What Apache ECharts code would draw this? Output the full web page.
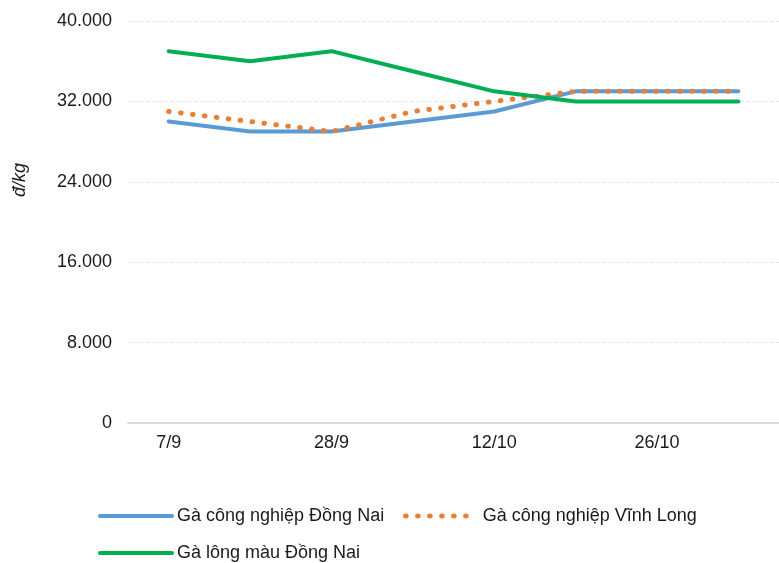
<!DOCTYPE html>
<html>
<head>
<meta charset="utf-8">
<script src="https://cdn.jsdelivr.net/npm/echarts@6/dist/echarts.min.js"></script>
<style>
  html, body { margin: 0; padding: 0; background: #fff; }
  #chart { width: 779px; height: 563px; }
</style>
</head>
<body>
<div id="chart"></div>
<script>
// dữ liệu biểu đồ
const categories = ['7/9', '14/9', '28/9', '5/10', '12/10', '19/10', '26/10', '2/11']
const dongNaiCN = [30000, 29000, 29000, 30000, 31000, 33000, 33000, 33000]
const vinhLongCN = [31000, 30000, 29000, 31000, 32000, 33000, 33000, 33000]
const dongNaiLM = [37000, 36000, 37000, 35000, 33000, 32000, 32000, 32000]
const seriesNames = ['Gà công nghiệp Đồng Nai', 'Gà công nghiệp Vĩnh Long', 'Gà lông màu Đồng Nai']
const yMin = 0
const yMax = 40000
const yStep = 8000

const font = 'Liberation Sans, Arial, sans-serif'
const chart = echarts.init(document.getElementById('chart'))

// định dạng số kiểu 40.000
const fmt = (v) => String(v).replace(/\B(?=(\d{3})+(?!\d))/g, '.')

const lineSeries = (name, data, color, dotted) => ({
  name: name,
  type: 'line',
  data: data,
  symbol: 'none',
  showSymbol: false,
  smooth: false,
  lineStyle: {
    color: color,
    width: dotted ? 5 : 4,
    type: dotted ? [0.5, 11.5] : 'solid',
    cap: 'round'
  },
  itemStyle: { color: color }
})

const option = {
  animation: false,
  grid: { left: 128, right: -5, top: 21, bottom: 140 },
  xAxis: {
    type: 'category',
    data: categories,
    boundaryGap: true,
    axisLine: { lineStyle: { color: '#d9d9d9', width: 2 } },
    axisTick: { show: false },
    axisLabel: { interval: 1, margin: 11, fontSize: 18, color: '#1a1a1a', fontFamily: font }
  },
  yAxis: {
    type: 'value',
    min: yMin,
    max: yMax,
    interval: yStep,
    axisLine: { show: false },
    axisTick: { show: false },
    axisLabel: { margin: 16, fontSize: 18, color: '#1a1a1a', fontFamily: font, formatter: fmt },
    splitLine: { lineStyle: { color: '#e6e6e6', type: 'dashed', width: 1 } }
  },
  legend: {
    data: seriesNames,
    left: 98,
    right: 0,
    top: 507,
    padding: 0,
    itemWidth: 72,
    itemHeight: 18,
    itemGap: 19,
    itemStyle: { opacity: 0 },
    lineStyle: { width: 'inherit' },
    textStyle: { fontSize: 18, color: '#1a1a1a', fontFamily: font }
  },
  graphic: [
    {
      type: 'text',
      x: 20,
      y: 180,
      rotation: Math.PI / 2,
      style: {
        text: 'đ/kg',
        font: 'italic 18px ' + font,
        fill: '#1a1a1a',
        textAlign: 'center',
        textVerticalAlign: 'middle'
      }
    }
  ],
  series: [
    lineSeries(seriesNames[0], dongNaiCN, '#5b9bd5', false),
    lineSeries(seriesNames[1], vinhLongCN, '#ed7d31', true),
    lineSeries(seriesNames[2], dongNaiLM, '#00b050', false)
  ]
}

chart.setOption(option)
</script>
</body>
</html>
